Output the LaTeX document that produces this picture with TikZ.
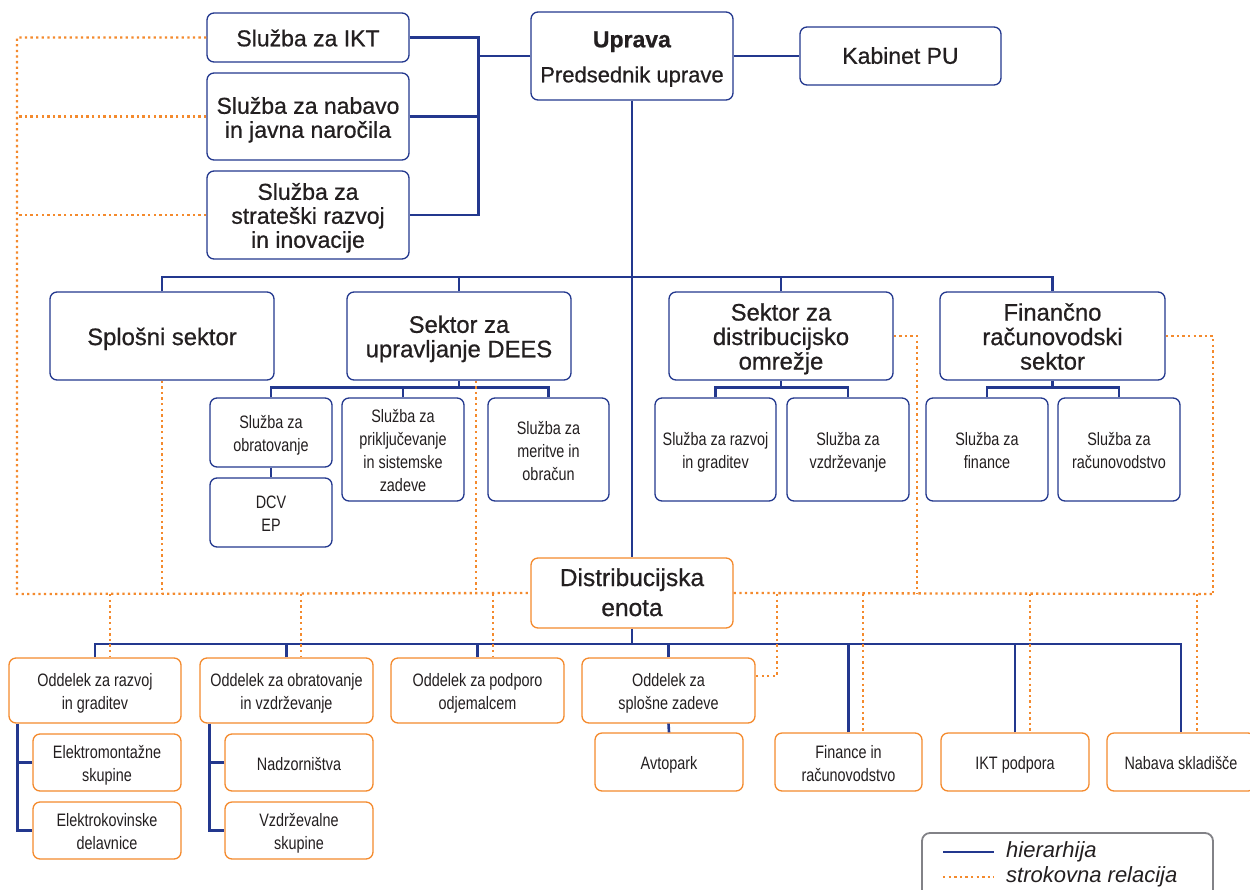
\documentclass[tikz,border=0pt]{standalone}
\usepackage{fontspec}
\setmainfont{Liberation Sans}
\newfontfamily\medf[FakeBold=0.7]{Liberation Sans}
\newfontfamily\condf[FakeStretch=0.8]{Liberation Sans}
\usetikzlibrary{calc}
\definecolor{hblue}{RGB}{35,56,142}
\definecolor{sorange}{RGB}{244,138,45}
\definecolor{txt}{RGB}{35,31,32}
\definecolor{leggray}{RGB}{130,130,135}
\newcommand\tb[2][8pt]{\raisebox{0pt}[\dimexpr\height+#1\relax][\depth]{\begin{tabular}{@{}c@{}}#2\end{tabular}}}
\begin{document}
\begin{tikzpicture}[x=1pt,y=-1pt,
 box/.style={draw=hblue, line width=1.3pt, rounded corners=7pt, inner sep=0pt, align=center, text=txt, fill=white},
 obox/.style={box, draw=sorange},
 sz/.style 2 args={minimum width=#1pt, minimum height=#2pt},
 big/.style={font=\medf\fontsize{23}{24}\selectfont},
 sect/.style={font=\medf\fontsize{23.8}{24}\selectfont},
 small/.style={font=\condf\fontsize{18}{23}\selectfont},
 hier/.style={draw=hblue, line width=2.6pt},
 rel/.style={draw=sorange, line width=2.3pt, dash pattern=on 2.3pt off 3.3pt},
]
\useasboundingbox (0,0) rectangle (1250,889);
\coordinate (busA) at (0,277);
\coordinate (busB) at (0,644);
\coordinate (relY) at (0,594);
% top
\node[box,big,sz={202}{49}] (ikt) at (308,37.5) {\tb{Služba za IKT}};
\node[box,big,sz={202}{87}] (nab) at (308,116.5) {\tb[9pt]{Služba za nabavo\\in javna naročila}};
\node[box,big,sz={202}{88}] (str) at (308,215) {\tb{Služba za\\strateški razvoj\\in inovacije}};
\node[box,big,sz={202}{88}] (upr) at (632,56) {\tb{\textbf{Uprava}\\[11pt]{\fontsize{22}{24}\selectfont Predsednik uprave}}};
\node[box,big,sz={201}{58}] (kab) at (900.5,56) {\tb[6pt]{Kabinet PU}};
% sectors
\node[box,sect,sz={224}{88}] (spl) at (162,336) {\tb{Splošni sektor}};
\node[box,sect,sz={224}{88}] (dees) at (459,336) {\tb{Sektor za\\upravljanje DEES}};
\node[box,sect,sz={224}{88}] (dist) at (781,336) {\tb{Sektor za\\distribucijsko\\omrežje}};
\node[box,sect,sz={225}{88}] (fin) at (1052.5,336) {\tb{Finančno\\računovodski\\sektor}};
% services
\node[box,small,sz={122}{69}] (obr) at (271,432.5) {\tb[6pt]{Služba za\\obratovanje}};
\node[box,small,sz={122}{69}] (dcv) at (271,512.5) {\tb[6pt]{DCV\\EP}};
\node[box,small,sz={122}{103}] (prik) at (403,449.5) {\tb[6pt]{Služba za\\priključevanje\\in sistemske\\zadeve}};
\node[box,small,sz={121}{103}] (mer) at (548.5,449.5) {\tb[6pt]{Služba za\\meritve in\\obračun}};
\node[box,small,sz={121}{103}] (razg) at (715.5,449.5) {\tb[6pt]{Služba za razvoj\\in graditev}};
\node[box,small,sz={122}{103}] (vzd) at (848,449.5) {\tb[6pt]{Služba za\\vzdrževanje}};
\node[box,small,sz={122}{103}] (sfin) at (987,449.5) {\tb[6pt]{Služba za\\finance}};
\node[box,small,sz={122}{103}] (srac) at (1119,449.5) {\tb[6pt]{Služba za\\računovodstvo}};
% distribution unit
\node[obox,font=\medf\fontsize{24.5}{30}\selectfont,sz={202}{70}] (de) at (632,593) {\tb[4pt]{Distribucijska\\enota}};
\node[obox,small,sz={172}{65}] (o1) at (95,690.5) {\tb[6pt]{Oddelek za razvoj\\in graditev}};
\node[obox,small,sz={173}{65}] (o2) at (286.5,690.5) {\tb[6pt]{Oddelek za obratovanje\\in vzdrževanje}};
\node[obox,small,sz={173}{65}] (o3) at (477.5,690.5) {\tb[6pt]{Oddelek za podporo\\odjemalcem}};
\node[obox,small,sz={173}{65}] (o4) at (668.5,690.5) {\tb[6pt]{Oddelek za\\splošne zadeve}};
\node[obox,small,sz={148}{57}] (em) at (107,762.5) {\tb[6pt]{Elektromontažne\\skupine}};
\node[obox,small,sz={148}{57}] (ek) at (107,830.5) {\tb[6pt]{Elektrokovinske\\delavnice}};
\node[obox,small,sz={148}{57}] (nad) at (299,762.5) {\tb[6pt]{Nadzorništva}};
\node[obox,small,sz={148}{57}] (vzs) at (299,830.5) {\tb[6pt]{Vzdrževalne\\skupine}};
\node[obox,small,sz={148}{58}] (avt) at (669,762) {\tb[6pt]{Avtopark}};
\node[obox,small,sz={147}{58}] (finr) at (848.5,762) {\tb[6pt]{Finance in\\računovodstvo}};
\node[obox,small,sz={148}{58}] (iktp) at (1015,762) {\tb[6pt]{IKT podpora}};
\node[obox,small,sz={148}{58}] (nabs) at (1181,762) {\tb[6pt]{Nabava skladišče}};
% hierarchy lines
\draw[hier] (ikt.east) -- ++(69,0) |- (str.east);
\draw[hier] (nab.east) -- ++(69,0);
\draw[hier] (upr.west) -- ++(-53,0);
\draw[hier] (upr.east) -- (kab.west);
\draw[hier] (upr.south) -- (de.north);
\draw[hier] (spl.north) -- (spl.north |- busA) -| (fin.north);
\draw[hier] (dees.north) -- (dees.north |- busA);
\draw[hier] (dist.north) -- (dist.north |- busA);
\draw[hier] (obr.north) -- ++(0,-10) -| (mer.north);
\draw[hier] (prik.north) -- ++(0,-10);
\draw[hier] (dees.south) -- ++(0,8);
\draw[hier] (obr.south) -- (dcv.north);
\draw[hier] (razg.north) -- ++(0,-10) -| (vzd.north);
\draw[hier] (dist.south) -- ++(0,8);
\draw[hier] (sfin.north) -- ++(0,-10) -| (srac.north);
\draw[hier] (fin.south) -- ++(0,8);
\draw[hier] (o1.north) -- (o1.north |- busB) -| (nabs.north);
\draw[hier] (de.south) -- (de.south |- busB);
\draw[hier] (o2.north) -- (o2.north |- busB);
\draw[hier] (o3.north) -- (o3.north |- busB);
\draw[hier] (o4.north) -- (o4.north |- busB);
\draw[hier] (finr.north) -- (finr.north |- busB);
\draw[hier] (iktp.north) -- (iktp.north |- busB);
\draw[hier] (o4.south) -- (avt.north);
\draw[hier] ($(o1.south west)+(9,0)$) |- (ek.west);
\draw[hier] (em.west) -- ++(-15,0);
\draw[hier] ($(o2.south west)+(10,0)$) |- (vzs.west);
\draw[hier] (nad.west) -- ++(-15,0);
% relation lines
\draw[rel] (ikt.west) -- (17,37.5) -- (17,594) -- (de.west);
\draw[rel] (nab.west) -- (17,116.5);
\draw[rel] (str.west) -- (17,215);
\draw[rel] (spl.south) -- (spl.south |- relY);
\draw[rel] ($(dees.south)+(17,0)$) -- (476,594);
\draw[rel] (110,594) -- ($(o1.north)+(15,0)$);
\draw[rel] (301,594) -- ($(o2.north)+(14.5,0)$);
\draw[rel] (493,594) -- ($(o3.north)+(15.5,0)$);
\draw[rel] (de.east) -- (1213,594);
\draw[rel] (dist.east) -- (917,336) -- (917,594);
\draw[rel] (fin.east) -- (1213,336) -- (1213,594);
\draw[rel] (777,594) -- (777,676) -- (o4.east |- 0,676);
\draw[rel] (863,594) -- ($(finr.north)+(14.5,0)$);
\draw[rel] (1030,594) -- ($(iktp.north)+(15,0)$);
\draw[rel] (1197,594) -- ($(nabs.north)+(16,0)$);
% legend
\node[draw=leggray, line width=1.8pt, rounded corners=8pt, fill=white, inner sep=0pt, sz={291}{70}] (leg) at (1067.5,868) {};
\coordinate (l1a) at (943,852); \coordinate (l1b) at (994,852);
\coordinate (l2a) at (943,877); \coordinate (l2b) at (994,877);
\draw[hier] (l1a) -- (l1b);
\draw[rel] (l2a) -- (l2b);
\node[anchor=west, inner sep=0pt, text=txt, font=\itshape\fontsize{22}{24}\selectfont] (lh) at (1006,852) {hierarhija};
\node[anchor=west, inner sep=0pt, text=txt, font=\itshape\fontsize{22}{24}\selectfont] (lr) at (1006,877) {strokovna relacija};
\end{tikzpicture}
\end{document}
